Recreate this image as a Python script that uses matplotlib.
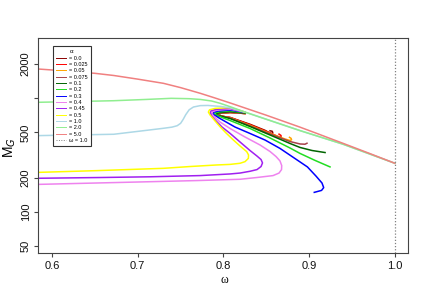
import matplotlib
matplotlib.use('Agg')
import matplotlib.pyplot as plt
from matplotlib.ticker import FixedLocator, NullLocator

plt.rcParams['font.family'] = ['Liberation Sans', 'DejaVu Sans']

# shared branch towards omega = 1 (alpha = 1, 2)
common_w = [0.8894, 0.9396, 1.0]
common_m = [518, 393, 267]

# upper strand shared by the small alpha curves
upper_w = [0.8252, 0.8077, 0.7972, 0.7937, 0.7943]
upper_m = [733, 749, 737, 721, 704]

a0_w = [0.8019, 0.8077, 0.8310, 0.8485, 0.8555, 0.8576, 0.8570, 0.8544]
a0_m = [686, 677, 589, 521, 486, 494, 511, 516]
a025_w = [0.8019, 0.8077, 0.8310, 0.8544, 0.8649, 0.8672, 0.8672, 0.8649]
a025_m = [686, 675, 583, 494, 455, 453, 469, 482]
a05_w = [0.8019, 0.8077, 0.8310, 0.8544, 0.8719, 0.8777, 0.8795, 0.8789, 0.8771]
a05_m = [686, 672, 577, 489, 437, 424, 430, 443, 452]
a075_w = [0.8019, 0.8077, 0.8310, 0.8544, 0.8777, 0.8894, 0.8952, 0.8975]
a075_m = [686, 669, 571, 484, 415, 395, 393, 401]

a1_w = [0.8252, 0.8077, 0.7960, 0.7920, 0.7920, 0.7984, 0.8077, 0.8310, 0.8544, 0.8777, 0.8894, 0.9034, 0.9186]
a1_m = [740, 762, 747, 732, 711, 690, 662, 563, 474, 399, 368, 346, 332]
a2_w = [0.8252, 0.8077, 0.7949, 0.7902, 0.7896, 0.7984, 0.8077, 0.8310, 0.8544, 0.8777, 0.8894, 0.9069, 0.9244]
a2_m = [747, 774, 759, 741, 721, 676, 636, 541, 446, 364, 326, 283, 248]
a3_w = [0.8252, 0.8077, 0.7937, 0.7884, 0.7876, 0.7960, 0.8135, 0.8310, 0.8485, 0.8660, 0.8835, 0.8980, 0.9080, 0.9150, 0.9170, 0.9145, 0.9060]
a3_m = [751, 787, 771, 751, 726, 662, 557, 489, 428, 361, 294, 248, 206, 179, 163, 154, 148]
a4_w = [0.8252, 0.8077, 0.7925, 0.7873, 0.7863, 0.7884, 0.7960, 0.8077, 0.8252, 0.8427, 0.8544, 0.8614, 0.8660, 0.8680, 0.8678, 0.8649, 0.8579, 0.8389, 0.8194, 0.7688, 0.6793, 0.584]
a4_m = [754, 800, 784, 762, 733, 697, 617, 541, 455, 387, 339, 306, 280, 255, 235, 219, 208, 200, 193, 188, 181, 174]
a45_w = [0.8252, 0.8077, 0.7914, 0.7855, 0.7846, 0.7867, 0.7914, 0.7984, 0.8077, 0.8194, 0.8310, 0.8392, 0.8439, 0.8456, 0.8439, 0.8392, 0.8310, 0.8194, 0.8077, 0.7727, 0.7144, 0.656, 0.584]
a45_m = [754, 813, 798, 774, 741, 690, 630, 557, 490, 411, 346, 309, 288, 269, 250, 235, 227, 219, 215, 208, 203, 200, 197]
a5_w = [0.8252, 0.8077, 0.7902, 0.7838, 0.7824, 0.7844, 0.7902, 0.7960, 0.8030, 0.8116, 0.8194, 0.8272, 0.8293, 0.8291, 0.8252, 0.8194, 0.8077, 0.7922, 0.7611, 0.7300, 0.6522, 0.584]
a5_m = [754, 826, 813, 790, 755, 711, 630, 561, 494, 428, 379, 338, 316, 295, 276, 267, 261, 258, 250, 241, 230, 222]

a10_w = [0.584, 0.672, 0.714, 0.730, 0.740, 0.746, 0.750, 0.753, 0.756, 0.760, 0.765, 0.773, 0.782, 0.797, 0.808, 0.8252]
a10_m = [468, 481, 525, 543, 556, 572, 600, 650, 715, 790, 836, 860, 863, 845, 822, 754]
a20_w = [0.584, 0.630, 0.672, 0.710, 0.739, 0.760, 0.773, 0.786, 0.796, 0.808, 0.8252]
a20_m = [920, 935, 950, 975, 997, 990, 975, 945, 902, 841, 754]
a50_w = [0.584, 0.620, 0.650, 0.672, 0.700, 0.730, 0.750, 0.773, 0.790, 0.808, 0.850,
         0.889, 0.910, 0.940, 0.970, 1.0]
a50_m = [1807, 1730, 1656, 1585, 1472, 1352, 1239, 1104, 1005, 907, 708,
         557, 486, 399, 327, 267]

labels = ['= 0.0', '= 0.025', '= 0.05', '= 0.075', '= 0.1', '= 0.2', '= 0.3',
          '= 0.4', '= 0.45', '= 0.5', '= 1.0', '= 2.0', '= 5.0']
colors = ['darkred', 'red', 'orange', '#a8424a', 'darkgreen', '#22dd22', 'blue',
          'violet', '#a020f0', 'yellow', 'lightblue', 'lightgreen', 'lightcoral']

yticks = [50, 100, 200, 500, 1000, 2000]
ylabels = ['50', '100', '200', '500', '', '2000']
xticks = [0.6, 0.7, 0.8, 0.9, 1.0]

series = [
    (upper_w + a0_w, upper_m + a0_m),
    (upper_w + a025_w, upper_m + a025_m),
    (upper_w + a05_w, upper_m + a05_m),
    (upper_w + a075_w, upper_m + a075_m),
    (a1_w, a1_m),
    (a2_w, a2_m),
    (a3_w, a3_m),
    (a4_w, a4_m),
    (a45_w, a45_m),
    (a5_w, a5_m),
    (a10_w + common_w, a10_m + common_m),
    (a20_w + common_w, a20_m + common_m),
    (a50_w, a50_m),
]

fig = plt.figure(figsize=(4.32, 3.0), dpi=100)
ax = fig.add_axes([0.0887, 0.1557, 0.8558, 0.7177])

for (w, m), lab, col in zip(series, labels, colors):
    ax.plot(w, m, color=col, lw=1.1, label=lab)

ax.axvline(1.0, color='gray', ls=(0, (1, 1.5)), lw=0.9, label='ω = 1.0')

ax.set_yscale('log')
ax.set_xlim(0.584, 1.0154)
ax.set_ylim(43, 3392)
ax.yaxis.set_major_locator(FixedLocator(yticks))
ax.yaxis.set_minor_locator(NullLocator())
ax.set_yticklabels(ylabels, rotation=90, va='center')
ax.set_xticks(xticks)
ax.set_xticklabels(['0.6', '0.7', '0.8', '0.9', '1.0'])
ax.tick_params(direction='out', length=3, width=0.8, color='#444',
               labelcolor='#111', labelsize=8, pad=2.5)
for s in ax.spines.values():
    s.set_color('#444')
    s.set_linewidth(0.8)

fig.text(10 / 432, 1 - 148 / 300, 'M$_G$', rotation=90, ha='center', va='center', fontsize=10)
fig.text(224 / 432, 1 - 280 / 300, 'ω', ha='center', va='center', fontsize=8.5,
         family=['Liberation Serif', 'DejaVu Serif'])

leg = ax.legend(loc='upper left', bbox_to_anchor=(0.039, 0.963), title='α',
                fontsize=4, title_fontsize=4.5, frameon=True, fancybox=False,
                edgecolor='#333', framealpha=1, borderpad=0.6, labelspacing=0.24,
                handlelength=1.8, handletextpad=0.6, borderaxespad=0)
leg.get_frame().set_linewidth(0.8)
for ln in leg.get_lines():
    ln.set_linewidth(0.7)

fig.savefig('out.png', dpi=100)
